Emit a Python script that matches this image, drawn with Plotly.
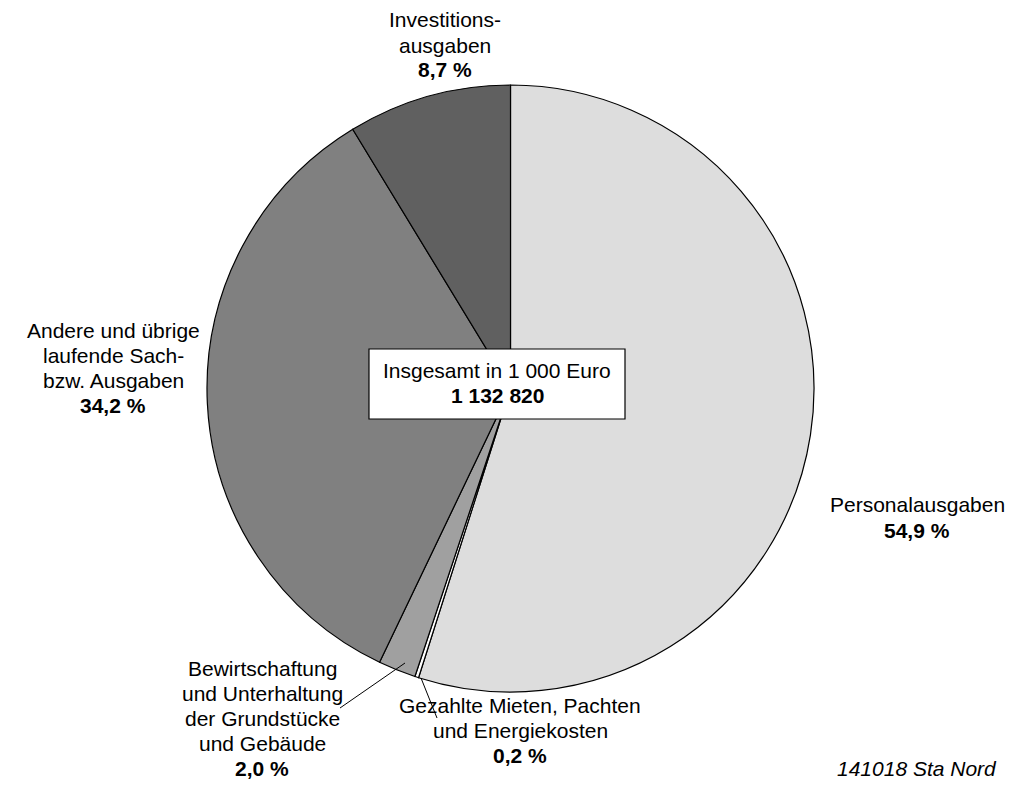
import plotly.graph_objects as go

labels = ["Personalausgaben", "Gezahlte Mieten, Pachten und Energiekosten",
          "Bewirtschaftung und Unterhaltung der Grundstücke und Gebäude",
          "Andere und übrige laufende Sach- bzw. Ausgaben", "Investitionsausgaben"]
values = [54.9, 0.2, 2.0, 34.2, 8.7]
colors = ["#dddddd", "#ffffff", "#a0a0a0", "#808080", "#606060"]
label_lines = [["Personalausgaben"],
               ["Gezahlte Mieten, Pachten", "und Energiekosten"],
               ["Bewirtschaftung", "und Unterhaltung", "der Grundstücke", "und Gebäude"],
               ["Andere und übrige", "laufende Sach-", "bzw. Ausgaben"],
               ["Investitions-", "ausgaben"]]
total_label = "Insgesamt in 1 000 Euro"
total_value = "1 132 820"
source = "141018 Sta Nord"

# page offset (browser body margin) and figure size
OFF = 8
W, H = 1016 - 2 * OFF, 796 - 2 * OFF
cx, cy, r = 510.5, 388.5, 303.5

def px(x):
    return (x - OFF) / W

def py(y):
    return 1 - (y - OFF) / H

fig = go.Figure(go.Pie(
    labels=labels, values=values, sort=False, direction="clockwise", rotation=0,
    marker=dict(colors=colors, line=dict(color="black", width=1.2)),
    textinfo="none", hoverinfo="label+percent", showlegend=False,
    domain=dict(x=[px(cx - r), px(cx + r)], y=[py(cy + r), py(cy - r)]),
))

font = dict(family="Liberation Sans, Arial, sans-serif", size=21, color="black")

def fmt(v):
    return f"{v:.1f}".replace(".", ",") + " %"

# first-line center positions (reference pixel coords)
label_pos = [(917, 505), (520, 705), (262, 668), (113, 330), (445, 20)]
LINE = 25
annotations = []
for lines, v, (x, y) in zip(label_lines, values, label_pos):
    all_lines = lines + [f"<b>{fmt(v)}</b>"]
    for i, t in enumerate(all_lines):
        annotations.append(dict(x=px(x), y=py(y + i * LINE), xref="paper", yref="paper",
                                text=t, showarrow=False, font=font,
                                xanchor="center", yanchor="middle"))

annotations.append(dict(x=px(497), y=py(370), xref="paper", yref="paper",
                        text=total_label, showarrow=False, font=font,
                        xanchor="center", yanchor="middle"))
annotations.append(dict(x=px(497), y=py(395), xref="paper", yref="paper",
                        text=f"<b>{total_value}</b>", showarrow=False, font=font,
                        xanchor="center", yanchor="middle"))
annotations.append(dict(x=px(999), y=py(768), xref="paper", yref="paper",
                        text=f"<i>{source}</i>", showarrow=False,
                        font=font, xanchor="right", yanchor="middle"))

shapes = [
    dict(type="rect", xref="paper", yref="paper", x0=px(369), x1=px(625), y0=py(419), y1=py(349),
         fillcolor="white", line=dict(color="black", width=1.2)),
    dict(type="line", xref="paper", yref="paper", x0=px(340), y0=py(708), x1=px(405), y1=py(663),
         line=dict(color="black", width=1)),
    dict(type="line", xref="paper", yref="paper", x0=px(421), y0=py(678), x1=px(437), y1=py(718),
         line=dict(color="black", width=1)),
]

fig.update_layout(width=W, height=H, autosize=False, margin=dict(l=0, r=0, t=0, b=0),
                  paper_bgcolor="white", plot_bgcolor="white",
                  annotations=annotations, shapes=shapes)

fig.write_html("out.html")
